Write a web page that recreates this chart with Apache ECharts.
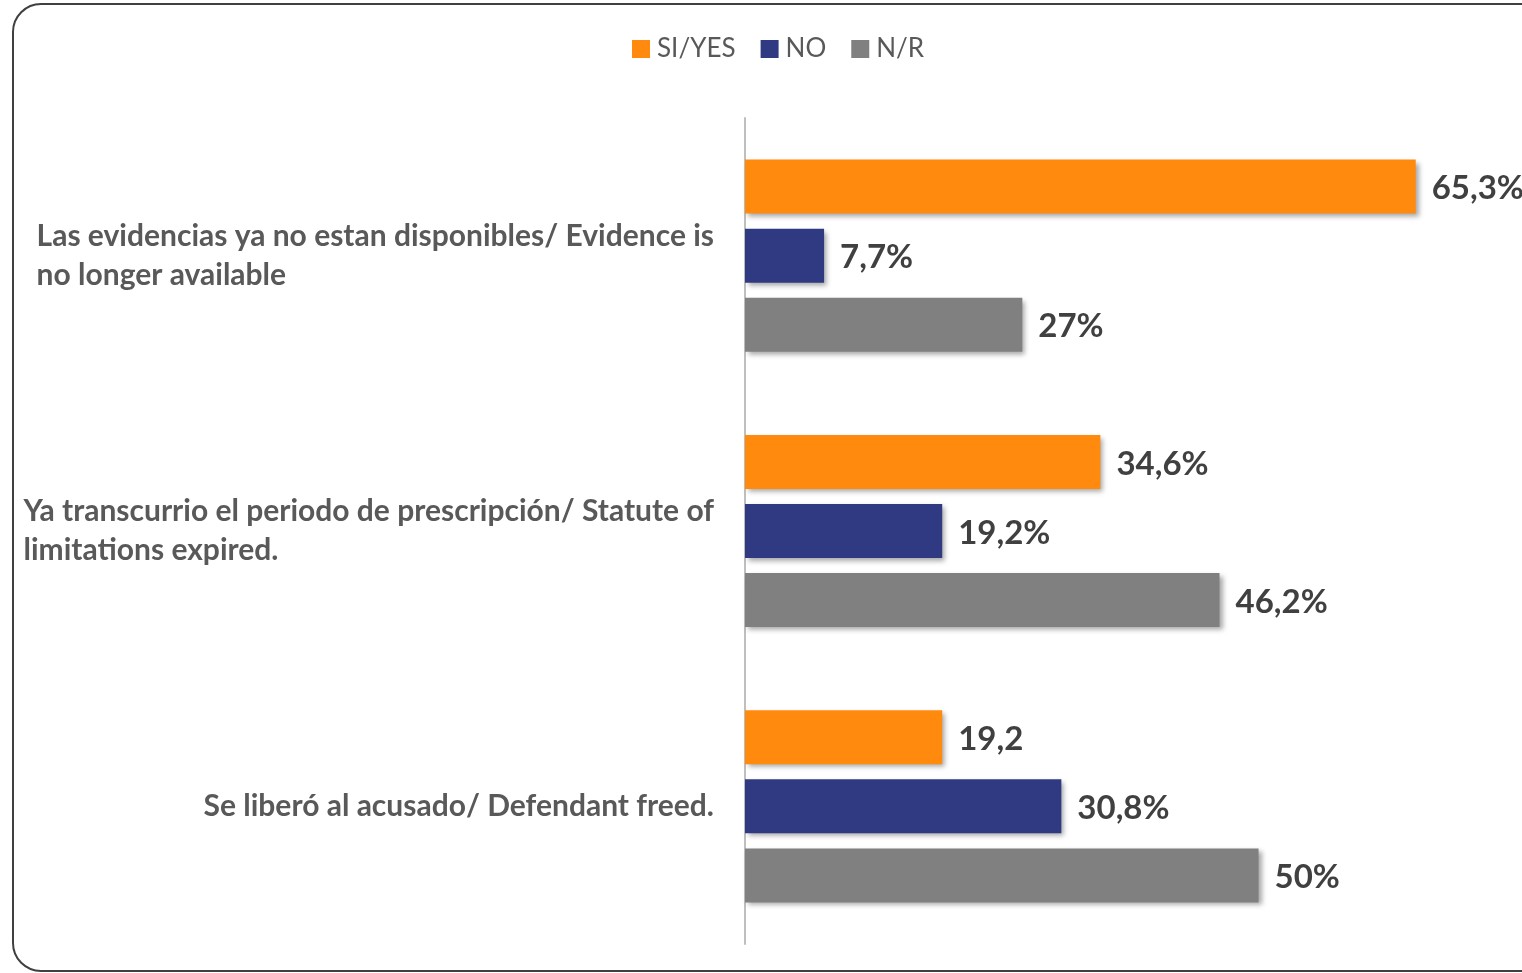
<!DOCTYPE html>
<html lang="es">

<head>
    <meta charset="UTF-8">
    <title>Razones</title>
    <script src="https://cdn.jsdelivr.net/npm/echarts@6/dist/echarts.min.js"></script>
    <style>
        html,
        body {
            margin: 0;
            padding: 0;
            background: #fff;
        }

        .box {
            width: 1522px;
            height: 973px;
        }
    </style>
</head>

<body>
    <div class="box"></div>

    <script>
        // datos
        var categories = [
            'Las evidencias ya no estan disponibles/ Evidence is\nno longer available',
            'Ya transcurrio el periodo de prescripción/ Statute of\nlimitations expired.',
            'Se liberó al acusado/ Defendant freed.'
        ];
        var seriesNames = ['SI/YES', 'NO', 'N/R'];
        var siValues = [65.3, 34.6, 19.2];
        var noValues = [7.7, 19.2, 30.8];
        var nrValues = [27, 46.2, 50];
        var siLabels = ['65,3%', '34,6%', '19,2'];
        var noLabels = ['7,7%', '19,2%', '30,8%'];
        var nrLabels = ['27%', '46,2%', '50%'];
        var colors = ['#FF8A0D', '#303A82', '#808080'];

        var myChart = echarts.init(document.querySelector('.box'));

        function makeSeries(name, values, labels, color) {
            return {
                name: name,
                type: 'bar',
                data: values,
                barWidth: 54,
                barGap: '28%',
                itemStyle: {
                    color: color,
                    shadowColor: 'rgba(0,0,0,0.35)',
                    shadowBlur: 5,
                    shadowOffsetX: 3,
                    shadowOffsetY: 3
                },
                label: {
                    show: true,
                    position: 'right',
                    distance: 16,
                    offset: [0, 2],
                    fontFamily: 'Lato',
                    fontWeight: 'bold',
                    fontSize: 33,
                    color: '#404040',
                    formatter: function(p) {
                        return labels[p.dataIndex];
                    }
                }
            };
        }

        var option = {
            animation: false,
            color: colors,
            graphic: [{
                type: 'rect',
                shape: { x: 13, y: 4, width: 1540, height: 967, r: 28 },
                style: { fill: 'none', stroke: '#404040', lineWidth: 2 },
                silent: true,
                z: -1
            }],
            legend: {
                left: 627,
                top: 31,
                itemWidth: 18,
                itemHeight: 18,
                itemGap: 25,
                icon: 'rect',
                textStyle: {
                    fontFamily: 'Lato',
                    fontSize: 26,
                    color: '#595959',
                    padding: [0, 0, 0, 2]
                },
                data: seriesNames
            },
            grid: {
                left: 745,
                right: 58,
                top: 118,
                bottom: 29,
                containLabel: false
            },
            xAxis: {
                type: 'value',
                min: 0,
                max: 70,
                show: false
            },
            yAxis: {
                type: 'category',
                inverse: true,
                data: categories,
                axisLine: { lineStyle: { color: '#BFBFBF', width: 2 } },
                axisTick: { show: false },
                axisLabel: {
                    margin: 31,
                    align: 'right',
                    // lineas alineadas a la izquierda dentro del bloque
                    formatter: function(v) {
                        return v.split('\n').map(function(s) {
                            return '{t|' + s + '}';
                        }).join('\n');
                    },
                    rich: {
                        t: {
                            fontFamily: 'Lato',
                            fontWeight: 'bold',
                            fontSize: 30,
                            lineHeight: 39,
                            color: '#595959',
                            align: 'left'
                        }
                    }
                }
            },
            series: [
                makeSeries(seriesNames[0], siValues, siLabels, colors[0]),
                makeSeries(seriesNames[1], noValues, noLabels, colors[1]),
                makeSeries(seriesNames[2], nrValues, nrLabels, colors[2])
            ]
        };

        myChart.setOption(option);
    </script>
</body>

</html>
